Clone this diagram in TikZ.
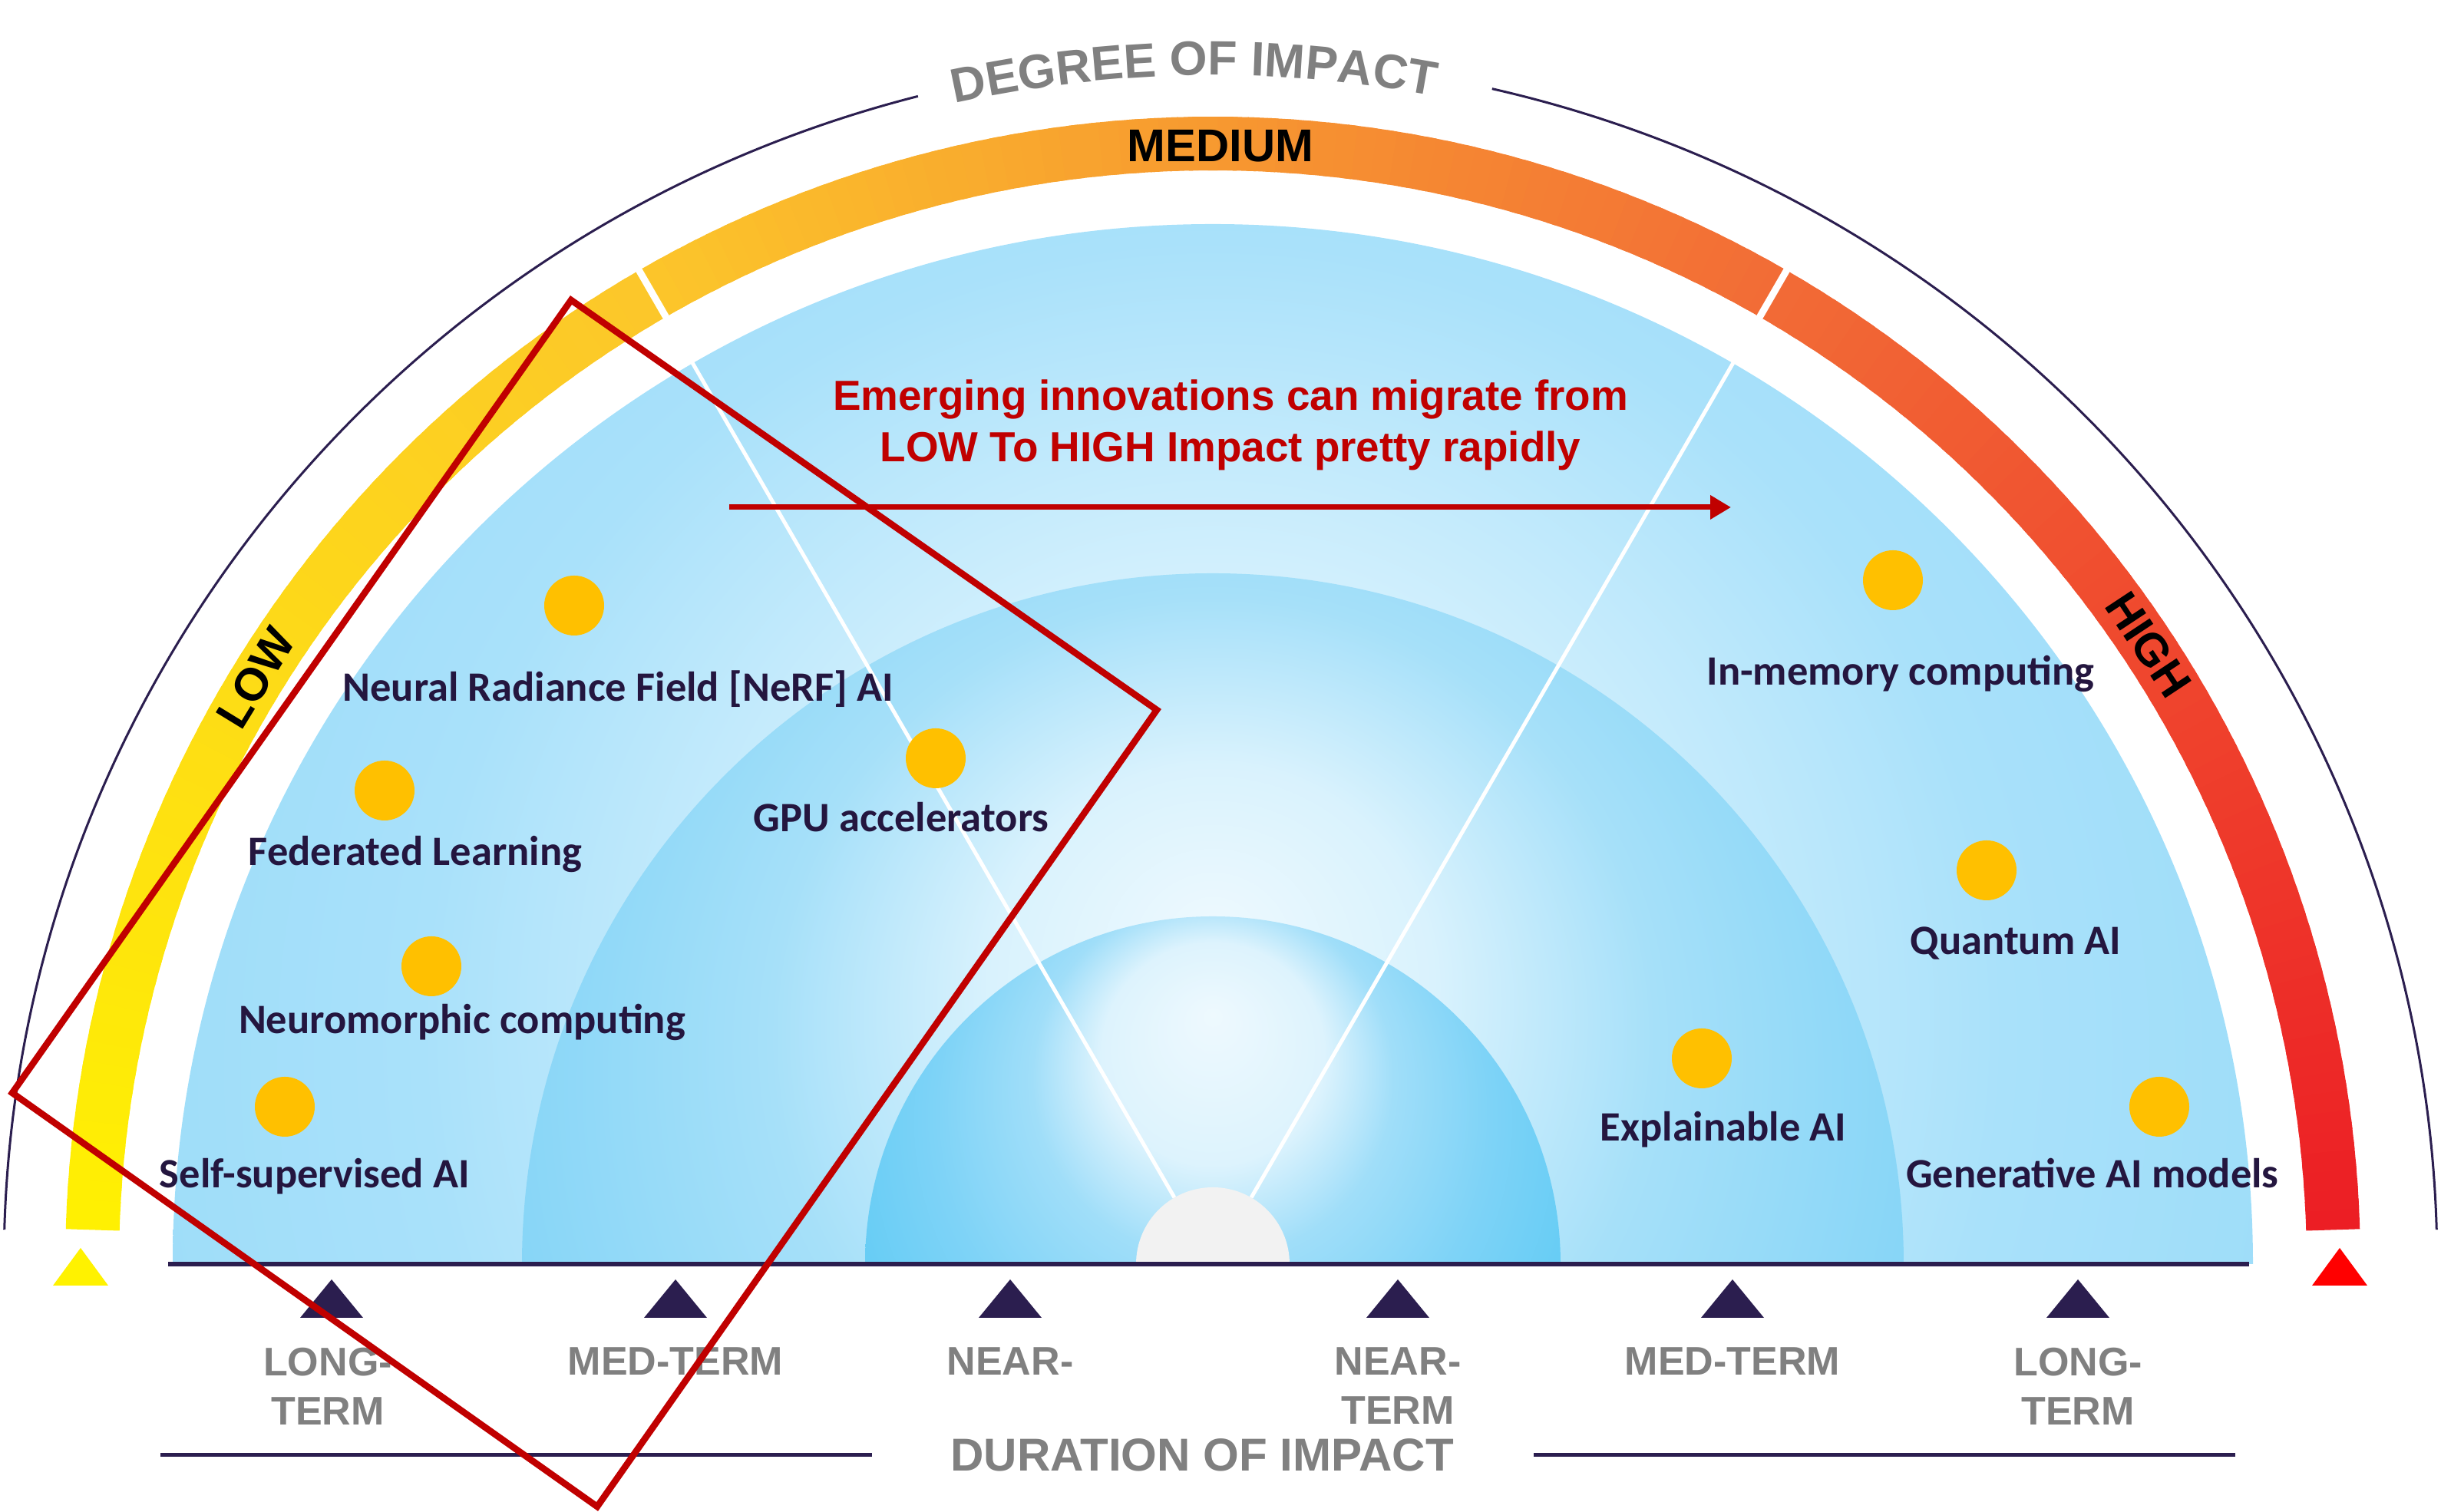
\documentclass[tikz,border=0pt]{standalone}
\usepackage{fontspec}
\setmainfont{Liberation Sans}
\newfontfamily\itemfont{Carlito}
\usepackage{tikz}
\usepackage{xcolor}
\usetikzlibrary{arrows.meta,calc,positioning,decorations.text}

\definecolor{navy}{HTML}{2B1E4F}
\definecolor{itemnavy}{HTML}{24163F}
\definecolor{dotgold}{HTML}{FFC000}
\definecolor{termgray}{HTML}{808080}
\definecolor{migred}{HTML}{C00000}
\definecolor{domegray}{HTML}{F2F2F2}
\definecolor{bandred}{HTML}{EC1C24}
\definecolor{bandorange}{HTML}{F26C36}
\definecolor{bandgold}{HTML}{FCC72A}
\definecolor{bandyellow}{HTML}{FFF200}
\definecolor{domelight}{HTML}{EEF9FE}
\definecolor{outerA}{HTML}{D3F0FD}
\definecolor{outerB}{HTML}{A9E1FA}
\definecolor{outerC}{HTML}{9EDDF9}
\definecolor{midA}{HTML}{D9F2FD}
\definecolor{midB}{HTML}{A6E0F9}
\definecolor{midC}{HTML}{86D5F7}
\definecolor{innerA}{HTML}{DDF3FD}
\definecolor{innerB}{HTML}{A0DEF9}
\definecolor{innerC}{HTML}{7ED3F7}
\definecolor{innerD}{HTML}{68CDF5}

\pgfdeclareradialshading{outerdome}{\pgfpoint{0bp}{9bp}}{color(0bp)=(domelight); color(9bp)=(outerA); color(19bp)=(outerB); color(26bp)=(outerC); color(50bp)=(outerC)}
\pgfdeclareradialshading{middome}{\pgfpoint{0bp}{12bp}}{color(0bp)=(domelight); color(8bp)=(midA); color(16bp)=(midB); color(26bp)=(midC); color(50bp)=(midC)}
\pgfdeclareradialshading{innerdome}{\pgfpoint{0bp}{18bp}}{color(0bp)=(domelight); color(8bp)=(innerA); color(13bp)=(innerB); color(20bp)=(innerC); color(26bp)=(innerD); color(50bp)=(innerD)}

\begin{document}
\begin{tikzpicture}[every node/.style={inner sep=0pt,outer sep=0pt},
	itemdot/.style={circle,fill=dotgold,minimum size=0.78cm},
	itemlabel/.style={anchor=base,text=itemnavy,font=\itemfont\bfseries\fontsize{15.5}{18}\selectfont},
	termlabel/.style={anchor=north,text=termgray,align=center,font=\bfseries\fontsize{14.8}{18.2}\selectfont},
	levellabel/.style={text=black,font=\bfseries\fontsize{17}{19}\selectfont},
	ticktri/.style={fill=navy},
	spoke/.style={white,line width=0.05cm}]
	\useasboundingbox (0,0) rectangle (31.8,19.7);
	\coordinate (C) at (15.8,3.23);
	\coordinate (A) at (15.9,3.23);

	\begin{scope}
		\clip (C) ++(-13.55,0) arc[start angle=180,end angle=0,radius=13.55] -- cycle;
		\shade[shading=outerdome] (C) circle (13.55);
	\end{scope}
	\begin{scope}
		\clip (C) ++(-9,0) arc[start angle=180,end angle=0,radius=9] -- cycle;
		\shade[shading=middome] (C) circle (9);
	\end{scope}
	\begin{scope}
		\clip (C) ++(-4.53,0) arc[start angle=180,end angle=0,radius=4.53] -- cycle;
		\shade[shading=innerdome] (C) circle (4.53);
	\end{scope}

	\foreach \g in {60,120}
		\draw[spoke] (C) ++(\g:1) -- ++(\g:13.3);
	\fill[domegray] (C) ++(-1,0) arc[start angle=180,end angle=0,radius=1] -- cycle;

	\coordinate (baseL) at (2.19,3.23);
	\coordinate (baseR) at (29.30,3.23);
	\draw[navy,line width=0.065cm] (baseL) -- (baseR);

	\foreach \a in {2,...,177}{
		\ifnum\a<60
			\pgfmathtruncatemacro\p{100*\a/60}
			\colorlet{bandcol}{bandorange!\p!bandred}
		\else\ifnum\a<120
			\pgfmathtruncatemacro\p{100*(\a-60)/60}
			\colorlet{bandcol}{bandgold!\p!bandorange}
		\else
			\pgfmathtruncatemacro\p{100*(\a-120)/60}
			\colorlet{bandcol}{bandyellow!\p!bandgold}
		\fi\fi
		\draw[bandcol,line width=0.7cm] (C) ++(\a-0.25:14.6) arc[start angle=\a-0.25,end angle=\a+1.25,radius=14.6];
	}
	\foreach \g in {60,120}
		\draw[white,line width=0.09cm] (C) ++(\g:14.15) -- ++(\g:0.9);

	\draw[navy,line width=0.03cm] (A) ++(178.36:15.85 and 15.71) arc[start angle=178.36,end angle=104.4,x radius=15.85,y radius=15.71];
	\draw[navy,line width=0.03cm] (A) ++(77.1:15.85 and 15.71) arc[start angle=77.1,end angle=1.64,x radius=15.85,y radius=15.71];
	\path[decorate,decoration={text along path,text align=center,
		text={|\color{termgray}\fontsize{17.9}{20}\selectfont\bfseries|DEGREE OF IMPACT}}]
		(C) ++(110:15.49) arc[start angle=110,end angle=71.8,radius=15.49];

	\node[levellabel] (medium) at (15.90,17.80) {MEDIUM};
	\node[levellabel,rotate=58.5] (low) at ($(C)+(148.5:14.62)$) {LOW};
	\node[levellabel,rotate=-56.5] (high) at ($(C)+(33.5:14.62)$) {HIGH};

	\node[itemdot] (nerfdot) at (7.48,11.81) {};
	\node[itemlabel] (nerf) at (8.05,10.56) {Neural Radiance Field [NeRF] AI};
	\node[itemdot] (feddot) at (5.01,9.40) {};
	\node[itemlabel] (fed) at (5.41,8.42) {Federated Learning};
	\node[itemdot] (neurodot) at (5.62,7.11) {};
	\node[itemlabel] (neuro) at (6.02,6.23) {Neuromorphic computing};
	\node[itemdot] (selfdot) at (3.71,5.28) {};
	\node[itemlabel] (self) at (4.10,4.22) {Self-supervised AI};
	\node[itemdot] (gpudot) at (12.19,9.82) {};
	\node[itemlabel] (gpu) at (11.74,8.86) {GPU accelerators};
	\node[itemdot] (memdot) at (24.66,12.14) {};
	\node[itemlabel] (mem) at (24.76,10.77) {In-memory computing};
	\node[itemdot] (quantdot) at (25.88,8.36) {};
	\node[itemlabel] (quant) at (26.26,7.26) {Quantum AI};
	\node[itemdot] (xaidot) at (22.17,5.91) {};
	\node[itemlabel] (xai) at (22.45,4.83) {Explainable AI};
	\node[itemdot] (gendot) at (28.13,5.28) {};
	\node[itemlabel] (gen) at (27.26,4.22) {Generative AI models};

	\node[anchor=north,align=center,text=migred,font=\bfseries\fontsize{15.6}{19.1}\selectfont] (migrate) at (16.03,14.75) {Emerging innovations can migrate from\\LOW To HIGH Impact pretty rapidly};
	\coordinate (arrowL) at (9.50,13.09);
	\coordinate (arrowR) at (22.55,13.09);
	\draw[migred,line width=0.07cm,-{Triangle[length=0.27cm,width=0.3cm]}] (arrowL) -- (arrowR);

	\foreach \x in {4.32,8.80,13.16,18.21,22.57,27.07}
		\fill[ticktri] (\x-0.41,2.53) -- (\x,3.03) -- (\x+0.41,2.53) -- cycle;
	\fill[bandyellow] (0.69,2.95) -- (1.05,3.44) -- (1.41,2.95) -- cycle;
	\fill[red] (30.12,2.95) -- (30.48,3.44) -- (30.84,2.95) -- cycle;

	\node[termlabel] (longL) at (4.27,2.14) {LONG-\\TERM};
	\node[termlabel] (medL) at (8.80,2.14) {MED-TERM};
	\node[termlabel] (nearL) at (13.16,2.14) {NEAR-};
	\node[termlabel] (nearR) at (18.21,2.14) {NEAR-\\TERM};
	\node[termlabel] (medR) at (22.57,2.14) {MED-TERM};
	\node[termlabel] (longR) at (27.07,2.14) {LONG-\\TERM};

	\node[text=termgray,font=\bfseries\fontsize{17.1}{19}\selectfont] (duration) at (15.66,0.74) {DURATION OF IMPACT};
	\draw[navy,line width=0.05cm] (2.09,0.74) -- (11.36,0.74);
	\draw[navy,line width=0.05cm] (19.98,0.74) -- (29.12,0.74);

	\draw[migred,line width=0.085cm] (7.44,15.79) -- (15.07,10.45) -- (7.78,0.07) -- (0.16,5.46) -- cycle;
\end{tikzpicture}
\end{document}
